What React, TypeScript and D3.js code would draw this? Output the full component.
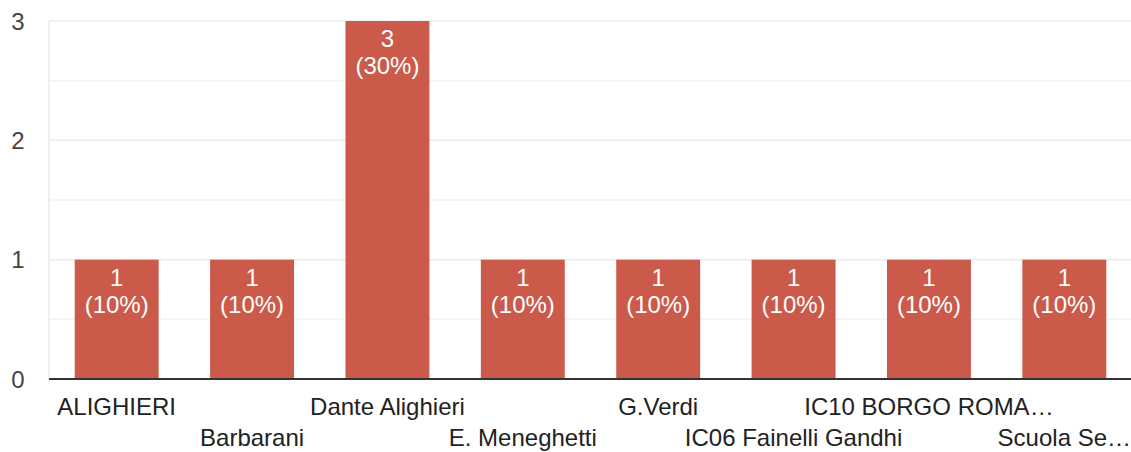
import React from 'react';
import { scaleBand, scaleLinear } from 'd3';

const categories = [
  'ALIGHIERI',
  'Barbarani',
  'Dante Alighieri',
  'E. Meneghetti',
  'G.Verdi',
  'IC06 Fainelli Gandhi',
  'IC10 BORGO ROMA…',
  'Scuola Se…',
];
const counts = [1, 1, 3, 1, 1, 1, 1, 1];
const percents = ['10%', '10%', '30%', '10%', '10%', '10%', '10%', '10%'];
const yTicks = [0, 1, 2, 3];
const yMinorTicks = [0.5, 1.5, 2.5];

const width = 1131;
const height = 452;
const margin = { top: 21, right: 0, bottom: 73, left: 49 };
const barColor = '#cc5a4a';
const font = '"Liberation Sans", Arial, sans-serif';
const fs = 24;

export default function App() {
  const x = scaleBand<string>()
    .domain(categories)
    .range([margin.left, width + 1])
    .paddingInner(0.38)
    .paddingOuter(0.19);
  const y = scaleLinear().domain([0, 3]).range([height - margin.bottom, margin.top]);

  return (
    <svg
      width={width}
      height={height}
      style={{ position: 'absolute', left: 0, top: 0, display: 'block' }}
    >
      <rect width={width} height={height} fill='#fff' />
      {/* grid */}
      {yMinorTicks.map(t => (
        <line key={'m' + t} x1={margin.left} x2={width} y1={y(t)} y2={y(t)} stroke='#f3f3f3' strokeWidth={1.5} />
      ))}
      {yTicks.map(t => (
        <line key={'g' + t} x1={margin.left} x2={width} y1={y(t)} y2={y(t)} stroke='#ebebeb' strokeWidth={1.5} />
      ))}
      <line x1={margin.left} x2={margin.left} y1={margin.top} y2={y(0)} stroke='#ebebeb' strokeWidth={1.5} />
      {/* y labels */}
      {yTicks.map(t => (
        <text
          key={'t' + t}
          x={18}
          y={y(t)}
          dy='0.36em'
          textAnchor='middle'
          fontFamily={font}
          fontSize={fs}
          fill='#444'
        >
          {t}
        </text>
      ))}
      {/* bars */}
      {categories.map((c, i) => {
        const bx = x(c) as number;
        const cx = bx + x.bandwidth() / 2;
        return (
          <g key={c}>
            <rect x={bx} y={y(counts[i])} width={x.bandwidth()} height={y(0) - y(counts[i])} fill={barColor} />
            <text x={cx} y={y(counts[i]) + 26} textAnchor='middle' fontFamily={font} fontSize={fs} fill='#fff'>
              {counts[i]}
            </text>
            <text x={cx} y={y(counts[i]) + 53} textAnchor='middle' fontFamily={font} fontSize={fs} fill='#fff'>
              ({percents[i]})
            </text>
            <text
              x={cx}
              y={i % 2 === 0 ? 415 : 446}
              textAnchor='middle'
              fontFamily={font}
              fontSize={fs}
              fill='#222'
            >
              {c}
            </text>
          </g>
        );
      })}
      {/* baseline */}
      <line x1={margin.left} x2={width} y1={y(0)} y2={y(0)} stroke='#333' strokeWidth={2} />
    </svg>
  );
}
